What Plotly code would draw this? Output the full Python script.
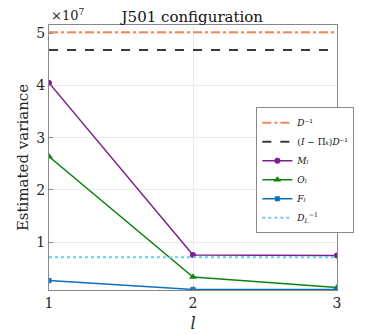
import plotly.graph_objects as go

levels = [1, 2, 3]
M_vals = [4.05e7, 0.75e7, 0.74e7]
O_vals = [2.64e7, 0.33e7, 0.13e7]
F_vals = [0.26e7, 0.09e7, 0.09e7]
D_inv = 5.02e7
proj_D_inv = 4.68e7
DL_inv = 0.71e7
y_ticks = [1e7, 2e7, 3e7, 4e7, 5e7]
y_tick_labels = ["1", "2", "3", "4", "5"]

SERIF = "'DejaVu Serif', 'Liberation Serif', serif"

fig = go.Figure()
fig.add_trace(go.Scatter(x=[1, 3], y=[D_inv, D_inv], mode="lines", name="<i>D</i>⁻¹",
                         line=dict(color="#EE8A5C", width=2, dash="dashdot")))
fig.add_trace(go.Scatter(x=[1, 3], y=[proj_D_inv, proj_D_inv], mode="lines",
                         name="(<i>I</i> − Π<i>ₖ</i>)<i>D</i>⁻¹",
                         line=dict(color="#3a3a3a", width=2, dash="dash")))
fig.add_trace(go.Scatter(x=levels, y=M_vals, mode="lines+markers", name="<i>Mₗ</i>",
                         line=dict(color="#7E1E8E", width=1.5), marker=dict(symbol="circle", size=6)))
fig.add_trace(go.Scatter(x=levels, y=O_vals, mode="lines+markers", name="<i>Oₗ</i>",
                         line=dict(color="#0E850E", width=1.5), marker=dict(symbol="triangle-up", size=7)))
fig.add_trace(go.Scatter(x=levels, y=F_vals, mode="lines+markers", name="<i>Fₗ</i>",
                         line=dict(color="#0A72BD", width=1.5), marker=dict(symbol="square", size=5)))
fig.add_trace(go.Scatter(x=[1, 3], y=[DL_inv, DL_inv], mode="lines",
                         name="<i>D</i><sub><i>L</i></sub><sup>−1</sup>",
                         line=dict(color="#6CCDF0", width=2, dash="dot")))

fig.update_layout(
    width=365, height=326,
    margin=dict(l=41, r=36, t=17, b=44),
    paper_bgcolor="white", plot_bgcolor="white",
    font=dict(family=SERIF, color="#262626", size=14),
    title=dict(text="J501 configuration", x=0.505, xanchor="center", y=0.99, yanchor="top",
               font=dict(size=15, color="#111")),
    showlegend=True,
    legend=dict(x=0.72, y=0.69, xanchor="left", yanchor="top", bgcolor="white",
                bordercolor="#888", borderwidth=1, font=dict(size=9, color="#111"),
                tracegroupgap=0, itemwidth=30),
    xaxis=dict(range=[1, 3], tickvals=levels, ticktext=["1", "2", "3"], showgrid=True,
               gridcolor="#ececec", showline=True, linecolor="#888", mirror=True, ticks="inside",
               ticklen=4, tickcolor="#888", zeroline=False, automargin=False,
               title=dict(text="<i>l</i>", standoff=8, font=dict(size=16))),
    yaxis=dict(range=[0.08e7, 5.16e7], tickvals=y_ticks, ticktext=y_tick_labels, showgrid=True,
               gridcolor="#ececec", showline=True, linecolor="#888", mirror=True, ticks="inside",
               ticklen=4, tickcolor="#888", zeroline=False, automargin=False,
               title=dict(text="Estimated variance", standoff=4, font=dict(size=15))),
)
fig.add_annotation(text="×10<sup>7</sup>", xref="paper", yref="paper", x=0.0, y=1.0,
                   xanchor="left", yanchor="bottom", showarrow=False, font=dict(size=13))
fig.write_html("out.html")
